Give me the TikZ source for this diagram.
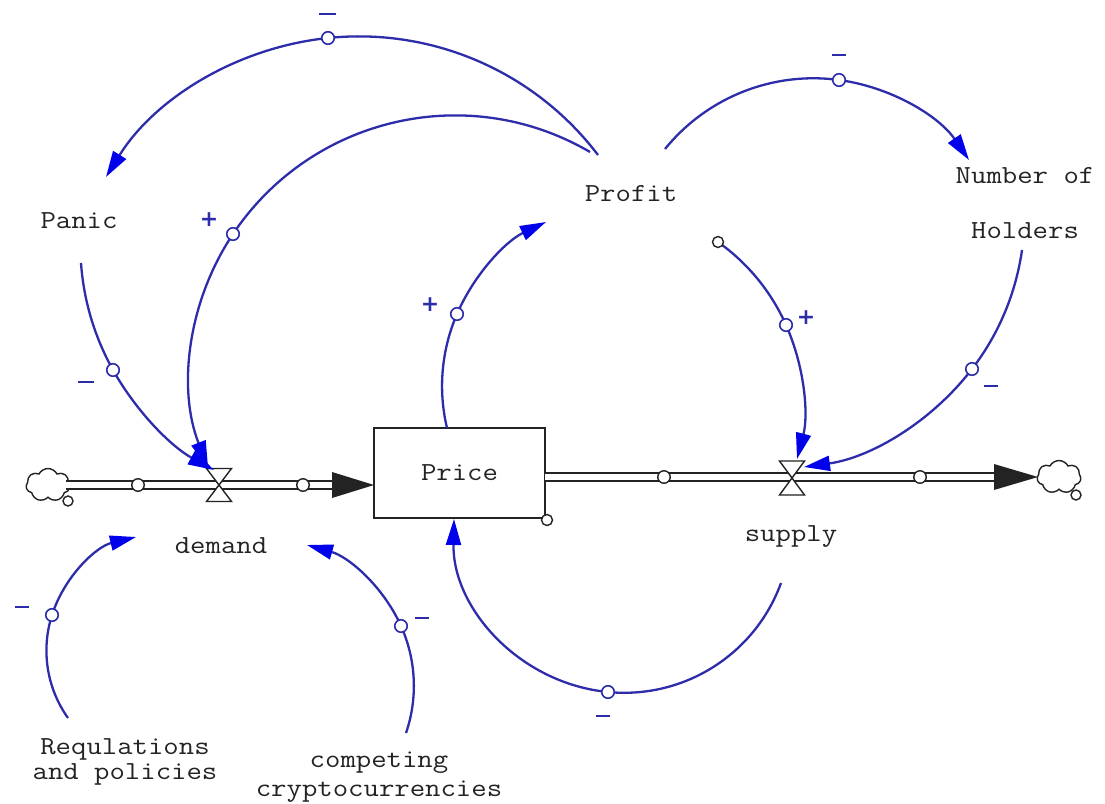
\documentclass[tikz,border=0pt]{standalone}
\usepackage{fontspec}
\newfontfamily\labelfont{Latin Modern Mono}[FakeStretch=1.15]
\newfontfamily\signfont{DejaVu Sans}
\usetikzlibrary{arrows.meta,shapes.symbols,hobby}

\definecolor{linkblue}{RGB}{45,45,172}
\definecolor{tipblue}{RGB}{0,0,235}
\definecolor{ink}{RGB}{35,35,35}

\tikzset{
  lbl/.style={font=\fontsize{26}{30}\selectfont\labelfont, text=ink, inner sep=0pt},
  link/.style={draw=linkblue, line width=2.3pt, use Hobby shortcut,
    -{Triangle[length=26pt,width=15pt,color=tipblue]}},
  hcirc/.style={circle, draw=linkblue, fill=white, line width=1.6pt,
    minimum size=12.5pt, inner sep=0pt},
  pcirc/.style={circle, draw=ink, fill=white, line width=1.4pt,
    minimum size=12.5pt, inner sep=0pt},
  pipe/.style={draw=ink, line width=1.8pt, double=white, double distance=5.5pt},
  valveline/.style={draw=ink, fill=white, line width=1.4pt, line join=miter},
  stockbox/.style={draw=ink, line width=1.6pt, minimum width=171pt,
    minimum height=90pt, inner sep=0pt, fill=white},
  cloudy/.style={cloud, cloud puffs=7, cloud puff arc=125, draw=ink,
    line width=1.4pt, minimum width=44pt, minimum height=33pt, inner sep=0pt,
    aspect=1.3, fill=white},
  minussign/.style={inner sep=0pt, text=linkblue},
  plussign/.style={inner sep=0pt, text=linkblue,
    font=\signfont\bfseries\fontsize{22}{22}\selectfont},
}
\newcommand{\minusbar}[1][15pt]{\rule{#1}{2.6pt}}

\begin{document}
\begin{tikzpicture}[x=1pt, y=-1pt]
\useasboundingbox[fill=white] (0,0) rectangle (1105,803);

% ---- stock and flows ----
\node[stockbox] (price) at (459.5,473) {};
\node[lbl] (pricetext) at (price.center) {Price};

\node[cloudy] (source) at (48,485) {};
\node[cloudy] (sink) at (1059,477) {};

\coordinate (inflowStart) at (66,485);
\coordinate (inflowTip) at (374,485);
\coordinate (inflowEnd) at (345,485);
\coordinate (outStart) at (545,477);
\coordinate (outflowTip) at (1038,477);
\coordinate (outflowEnd) at (1005,477);

\draw[pipe] (inflowStart) -- (inflowEnd);
\draw[pipe] (outStart) -- (outflowEnd);
\fill[ink] (inflowTip) -- ++(-42,-13) -- ++(0,26) -- cycle;
\fill[ink] (outflowTip) -- ++(-44,-13) -- ++(0,26) -- cycle;

\node[pcirc, minimum size=10pt] (sourcedot) at (68,501) {};
\node[pcirc, minimum size=10pt] (sinkdot) at (1076,495) {};
\node[pcirc] (pipeA) at (138,485) {};
\node[pcirc] (pipeB) at (303,485) {};
\node[pcirc] (pipeC) at (664,477) {};
\node[pcirc] (pipeD) at (920,477) {};
\node[pcirc, minimum size=11pt] (pricedot) at (547,520) {};

% valves
\coordinate (dvalve) at (219,485);
\coordinate (svalve) at (792,478);
\draw[valveline] (dvalve) -- ++(-12.5,-16.5) -- ++(25,0) -- cycle
                 (dvalve) -- ++(-12.5,16.5) -- ++(25,0) -- cycle;
\draw[valveline] (svalve) -- ++(-12.5,-17) -- ++(25,0) -- cycle
                 (svalve) -- ++(-12.5,17) -- ++(25,0) -- cycle;

% ---- labels ----
\node[lbl] (demand) at (221,546) {demand};
\node[lbl] (supply) at (791,537) {supply};
\node[lbl] (profit) at (631,194) {Profit};
\node[lbl] (panic) at (79,221) {Panic};
\node[lbl, align=center, font=\fontsize{26}{55}\selectfont\labelfont] (holders) at (1025,203) {Number of\\Holders};
\node[lbl, align=center, font=\fontsize{26}{25}\selectfont\labelfont] (regs) at (125,762) {Requlations\\and policies};
\node[lbl, align=center, font=\fontsize{26}{29}\selectfont\labelfont] (compete) at (379,777) {competing\\cryptocurrencies};

% ---- causal links ----
\coordinate (a1s) at (598,155);  \coordinate (a1m) at (328,38);  \coordinate (a1e) at (106,177);
\coordinate (a2s) at (590,152);  \coordinate (a2m) at (233,234); \coordinate (a2e) at (208,467);
\coordinate (a3s) at (81,263);   \coordinate (a3m) at (113,370); \coordinate (a3e) at (214,470);
\coordinate (a4s) at (447,428);  \coordinate (a4m) at (457,314); \coordinate (a4e) at (546,222);
\coordinate (a5s) at (665,149);  \coordinate (a5m) at (839,80);  \coordinate (a5e) at (969,160);
\coordinate (a6s) at (1022,250); \coordinate (a6m) at (972,369); \coordinate (a6e) at (804,467);
\coordinate (a7s) at (718,242);  \coordinate (a7m) at (786,325); \coordinate (a7e) at (797,459);
\coordinate (a8s) at (781,583);  \coordinate (a8m) at (608,692); \coordinate (a8e) at (454,519);
\coordinate (a9s) at (68,718);   \coordinate (a9m) at (52,615);  \coordinate (a9e) at (136,537);
\coordinate (a10s) at (406,733); \coordinate (a10m) at (401,626); \coordinate (a10e) at (307,545);

\draw[link] (a1s) .. (a1m) .. (a1e);
\draw[link] (a2s) .. (a2m) .. (a2e);
\draw[link] (a3s) .. (a3m) .. (a3e);
\draw[link] (a4s) .. (a4m) .. (a4e);
\draw[link] (a5s) .. (a5m) .. (a5e);
\draw[link] (a6s) .. (a6m) .. (a6e);
\draw[link] (a7s) .. (a7m) .. (a7e);
\draw[link] (a8s) .. (a8m) .. (a8e);
\draw[link] (a9s) .. (a9m) .. (a9e);
\draw[link] (a10s) .. (a10m) .. (a10e);

% link handles
\foreach \h in {a1m,a2m,a3m,a4m,a5m,a6m,a7m,a8m,a9m,a10m}
  \node[hcirc] (h-\h) at (\h) {};
\node[pcirc, minimum size=11pt] (a7origin) at (a7s) {};

% polarity signs
\node[minussign] (s1) at (327,14) {\minusbar[17pt]};
\node[plussign]  (s2) at (209,220) {+};
\node[minussign] (s3) at (86,382) {\minusbar[16pt]};
\node[plussign]  (s4) at (430,305) {+};
\node[minussign] (s5) at (839,55) {\minusbar[14pt]};
\node[minussign] (s6) at (991,386) {\minusbar[14pt]};
\node[plussign]  (s7) at (806,318) {+};
\node[minussign] (s8) at (603,716) {\minusbar[14pt]};
\node[minussign] (s9) at (22,607) {\minusbar[14pt]};
\node[minussign] (s10) at (422,618) {\minusbar[14pt]};
\end{tikzpicture}
\end{document}
